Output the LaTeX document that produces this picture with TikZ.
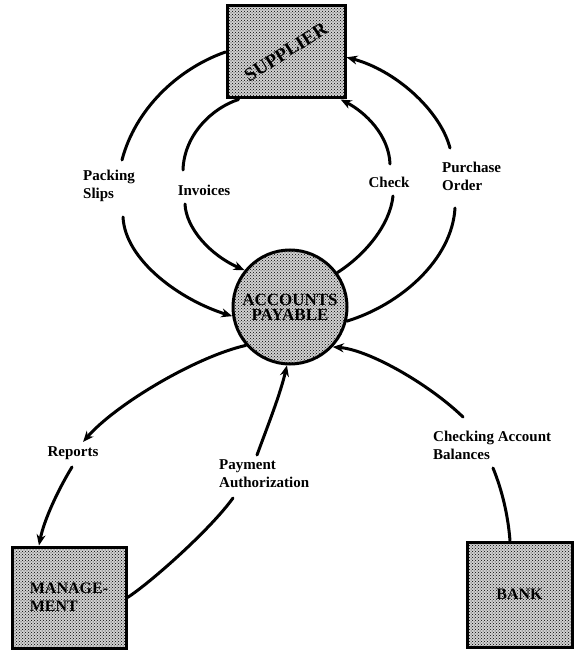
\documentclass[tikz,border=0pt]{standalone}
\usepackage{fontspec}
\setmainfont{Liberation Serif}
\usetikzlibrary{arrows.meta,patterns}
\begin{document}
\begin{tikzpicture}[x=1pt,y=-1pt,
  flow/.style={line width=3pt,line cap=round},
  arr/.style={flow,-{Stealth[length=11pt,width=9pt]}},
  shaded/.style={draw=black,line width=3pt,fill=black!18,postaction={pattern=crosshatch dots}},
  entity/.style={shaded,rectangle,inner sep=0pt,align=left,
    font=\bfseries\fontsize{16}{18}\selectfont},
  process/.style={shaded,circle,minimum size=114pt,inner sep=0pt,align=center,
    font=\bfseries\fontsize{17}{15}\selectfont},
  lbl/.style={inner sep=0pt,align=left,font=\bfseries\fontsize{15}{18}\selectfont}
]
\useasboundingbox (0,0) rectangle (574,652);

% external entities and the process
\node[entity,minimum width=118pt,minimum height=92pt,font=\bfseries\fontsize{19}{19}\selectfont]
  (sup) at (286,52) {\rotatebox{32}{SUPPLIER}};
\node[process] (ap) at (290,307) {ACCOUNTS\\PAYABLE};
\node[entity,minimum width=114pt,minimum height=101pt] (mgt) at (69,597.5) {MANAGE-\\MENT};
\node[entity,minimum width=105pt,minimum height=105pt] (bank) at (519.5,594.5) {BANK};

% flow labels
\node[lbl,anchor=west] (ps)  at (83,186)  {Packing\\Slips};
\node[lbl]             (inv) at (204,190) {Invoices};
\node[lbl]             (chk) at (389,182) {Check};
\node[lbl,anchor=west] (po)  at (442,176) {Purchase\\Order};
\node[lbl]             (rep) at (73,453)  {Reports};
\node[lbl,anchor=west] (pay) at (219,474) {Payment\\Authorization};
\node[lbl,anchor=west] (bal) at (433,445) {Checking Account\\Balances};

% ends of the gaps left for the labels
\coordinate (psA) at (122,160);  \coordinate (psB) at (123,217);
\coordinate (invA) at (183,170); \coordinate (invB) at (185,204);
\coordinate (chkA) at (390,164); \coordinate (chkB) at (393,196);
\coordinate (poA) at (450,148);  \coordinate (poB) at (455,208);
\coordinate (repA) at (83,442);  \coordinate (repB) at (72,467);
\coordinate (payA) at (257,455); \coordinate (payB) at (233,498);
\coordinate (balA) at (463,417); \coordinate (balB) at (493,468);

% packing slips: supplier -> accounts payable
\draw[flow] (sup.180) .. controls (177,69) and (135,110) .. (psA);
\draw[arr]  (psB) .. controls (125,260) and (180,300) .. (ap.189);
% invoices: supplier -> accounts payable
\draw[flow] (sup.-135) .. controls (212,108) and (184,135) .. (invA);
\draw[arr]  (invB) .. controls (186,228) and (210,255) .. (ap.141);
% check: accounts payable -> supplier
\draw[flow] (ap.36) .. controls (365,255) and (390,225) .. (chkB);
\draw[arr]  (chkA) .. controls (389,135) and (365,112) .. (sup.-41);
% purchase order: accounts payable -> supplier
\draw[flow] (ap.-14) .. controls (400,305) and (452,260) .. (poB);
\draw[arr]  (poA) .. controls (440,110) and (395,70) .. (sup.-5);
% reports: accounts payable -> management
\draw[arr]  (ap.221) .. controls (195,357) and (115,405) .. (repA);
\draw[arr]  (repB) .. controls (58,490) and (44,520) .. (mgt.120);
% payment authorization: management -> accounts payable
\draw[flow] (mgt.east) .. controls (150,583) and (210,530) .. (payB);
\draw[arr]  (payA) .. controls (268,425) and (280,395) .. (ap.-93);
% checking account balances: bank -> accounts payable
\draw[flow] (bank.100) .. controls (508,515) and (502,490) .. (balB);
\draw[arr]  (balA) .. controls (430,385) and (370,350) .. (ap.-43);
\end{tikzpicture}
\end{document}
